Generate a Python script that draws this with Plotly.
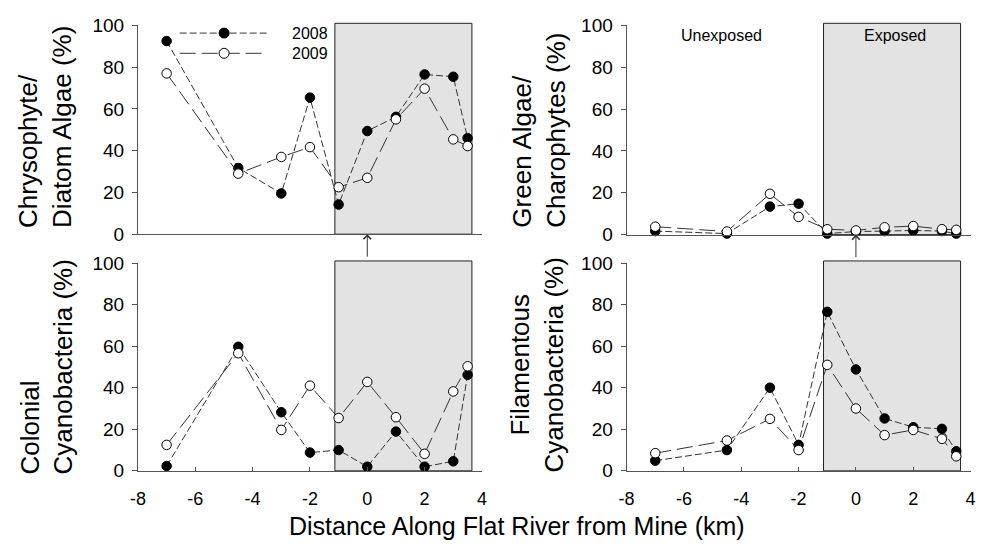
import plotly.graph_objects as go

# Sampling sites: distance along Flat River relative to the mine (km)
distance_km = [-7, -4.5, -3, -2, -1, 0, 1, 2, 3, 3.5]

# Relative abundance (%) by algal group and year
chryso_2008 = [92.5, 31.7, 19.5, 65.4, 14.2, 49.4, 56.2, 76.5, 75.4, 46.0]
chryso_2009 = [77.0, 29.0, 37.0, 41.7, 22.5, 27.0, 55.0, 69.7, 45.4, 42.2]

green_2008 = [1.7, 0.5, 13.4, 14.8, 0.5, 1.5, 1.7, 2.0, 1.7, 0.5]
green_2009 = [3.8, 1.5, 19.5, 8.5, 2.6, 2.0, 3.5, 4.1, 2.6, 2.3]

colonial_2008 = [2.3, 59.7, 28.2, 8.8, 10.0, 2.0, 18.9, 2.0, 4.6, 46.2]
colonial_2009 = [12.5, 56.6, 19.7, 41.0, 25.4, 42.8, 25.8, 8.2, 38.2, 50.3]

filament_2008 = [4.9, 10.0, 40.0, 12.5, 76.5, 48.8, 25.2, 21.0, 20.2, 9.4]
filament_2009 = [8.5, 14.6, 25.0, 10.0, 51.0, 30.0, 17.2, 19.7, 15.4, 7.0]

years = ["2008", "2009"]
x_ticks = [-8, -6, -4, -2, 0, 2, 4]
x_tick_text = ["-8", "-6", "-4", "-2", "0", "2", "4"]
y_ticks = [0, 20, 40, 60, 80, 100]
y_tick_text = ["0", "20", "40", "60", "80", "100"]

# Extent of the mine-exposed reach (km)
EXPOSED_START = -1.13
EXPOSED_END = 3.65

W, H = 982, 554
FONT = "Liberation Sans"
LINE_COL = "#333333"
AXIS_COL = "#555555"

# Panel pixel geometry: (left px, right px, top px at 100 %, bottom px at 0 %)
panels = {
    1: (131.7, 480.3, 16.0, 233.0),
    2: (626.9, 975.5, 16.0, 233.5),
    3: (131.7, 480.3, 263.0, 479.0),
    4: (626.9, 975.5, 263.0, 479.0),
}

panel_data = {
    1: (chryso_2008, chryso_2009),
    2: (green_2008, green_2009),
    3: (colonial_2008, colonial_2009),
    4: (filament_2008, filament_2009),
}

styles = {
    "2008": dict(dash="7px,3px", fill="black"),
    "2009": dict(dash="16px,6px", fill="white"),
}

fig = go.Figure()

for k, (v08, v09) in panel_data.items():
    xa = "x" if k == 1 else f"x{k}"
    ya = "y" if k == 1 else f"y{k}"
    for yr, vals in zip(years, (v08, v09)):
        st = styles[yr]
        fig.add_trace(go.Scatter(
            x=distance_km, y=vals, xaxis=xa, yaxis=ya, name=yr,
            mode="lines+markers", showlegend=False, cliponaxis=False,
            line=dict(color=LINE_COL, width=1, dash=st["dash"]),
            marker=dict(symbol="circle", size=9.5, color=st["fill"],
                        line=dict(color="black", width=1)),
        ))

layout = dict(
    width=W, height=H,
    margin=dict(l=0, r=0, t=0, b=0),
    paper_bgcolor="white", plot_bgcolor="rgba(0,0,0,0)",
    font=dict(family=FONT, color="black"),
    showlegend=False,
)

for k, (l, r, t, b) in panels.items():
    xkey = "xaxis" if k == 1 else f"xaxis{k}"
    ykey = "yaxis" if k == 1 else f"yaxis{k}"
    anchor_x = "y" if k == 1 else f"y{k}"
    anchor_y = "x" if k == 1 else f"x{k}"
    bottom_row = k in (3, 4)
    layout[xkey] = dict(
        domain=[l / W, r / W], range=[-8, 4], anchor=anchor_x,
        showgrid=False, zeroline=False, showline=True,
        linecolor=AXIS_COL, linewidth=1,
        tickvals=x_ticks, ticktext=x_tick_text,
        ticks="inside" if bottom_row else "",
        ticklen=4, tickcolor=AXIS_COL,
        showticklabels=bottom_row, ticklabelstandoff=12,
        tickfont=dict(size=18, family=FONT, color="black"),
    )
    layout[ykey] = dict(
        domain=[1 - b / H, 1 - t / H], range=[0, 100], anchor=anchor_y,
        showgrid=False, zeroline=False, showline=True,
        linecolor=AXIS_COL, linewidth=1,
        tickvals=y_ticks, ticktext=y_tick_text,
        ticks="outside", ticklen=5, tickcolor=AXIS_COL,
        ticklabelstandoff=4,
        tickfont=dict(size=19, family=FONT, color="black"),
    )

fig.update_layout(**layout)

# Shaded exposed reach in each panel
for k in panels:
    xr = "x" if k == 1 else f"x{k}"
    yr = "y domain" if k == 1 else f"y{k} domain"
    fig.add_shape(type="rect", xref=xr, yref=yr,
                  x0=EXPOSED_START, x1=EXPOSED_END, y0=0, y1=1.01,
                  fillcolor="#e3e3e3", line=dict(color="#222222", width=1),
                  layer="below")

# Mine location arrows between the rows
for k in (1, 2):
    xr = "x" if k == 1 else f"x{k}"
    yr = "y" if k == 1 else f"y{k}"
    fig.add_annotation(x=0, y=0, xref=xr, yref=yr, text="", showarrow=True,
                       ax=0, ay=24, arrowhead=4, arrowsize=1.5, arrowwidth=1,
                       arrowcolor=LINE_COL, standoff=0)

# Y-axis titles
ytitles = [
    ("Chrysophyte/<br>Diatom Algae (%)", 38, 121, "left"),
    ("Green Algae/<br>Charophytes (%)", 538, 124.5, "left"),
    ("Colonial<br>Cyanobacteria (%)", 39, 371, "left"),
    ("Filamentous<br>Cyanobacteria (%)", 536, 368.5, "center"),
]
for txt, px, py, al in ytitles:
    fig.add_annotation(text=txt, xref="paper", yref="paper",
                       x=px / W, y=1 - py / H, xanchor="center", yanchor="middle",
                       textangle=-90, showarrow=False, align=al,
                       font=dict(size=26, family=FONT, color="black"))

# Shared x-axis title
fig.add_annotation(text="Distance Along Flat River from Mine (km)",
                   xref="paper", yref="paper", x=516 / W, y=1 - 536 / H,
                   xanchor="center", yanchor="middle", showarrow=False,
                   font=dict(size=25, family=FONT, color="black"))

# Reach labels
for txt, px in (("Unexposed", 723), ("Exposed", 899)):
    fig.add_annotation(text=txt, xref="paper", yref="paper",
                       x=px / W, y=1 - 27 / H, xanchor="center", yanchor="middle",
                       showarrow=False, font=dict(size=16, family=FONT, color="black"))

# Year key drawn in the first panel
key_rows = (("2008", 24), ("2009", 45))
for yr, py in key_rows:
    st = styles[yr]
    fig.add_shape(type="line", xref="paper", yref="paper",
                  x0=174 / W, x1=263 / W, y0=1 - py / H, y1=1 - py / H,
                  line=dict(color=LINE_COL, width=1, dash=st["dash"]))
    fig.add_shape(type="circle", xref="paper", yref="paper",
                  xsizemode="pixel", ysizemode="pixel",
                  xanchor=219 / W, yanchor=1 - py / H,
                  x0=-5, x1=5, y0=-5, y1=5,
                  fillcolor=st["fill"], line=dict(color="black", width=1))
    fig.add_annotation(text=yr, xref="paper", yref="paper",
                       x=286 / W, y=1 - py / H, xanchor="left", yanchor="middle",
                       showarrow=False, font=dict(size=16, family=FONT, color="black"))

fig.write_html("out.html")
